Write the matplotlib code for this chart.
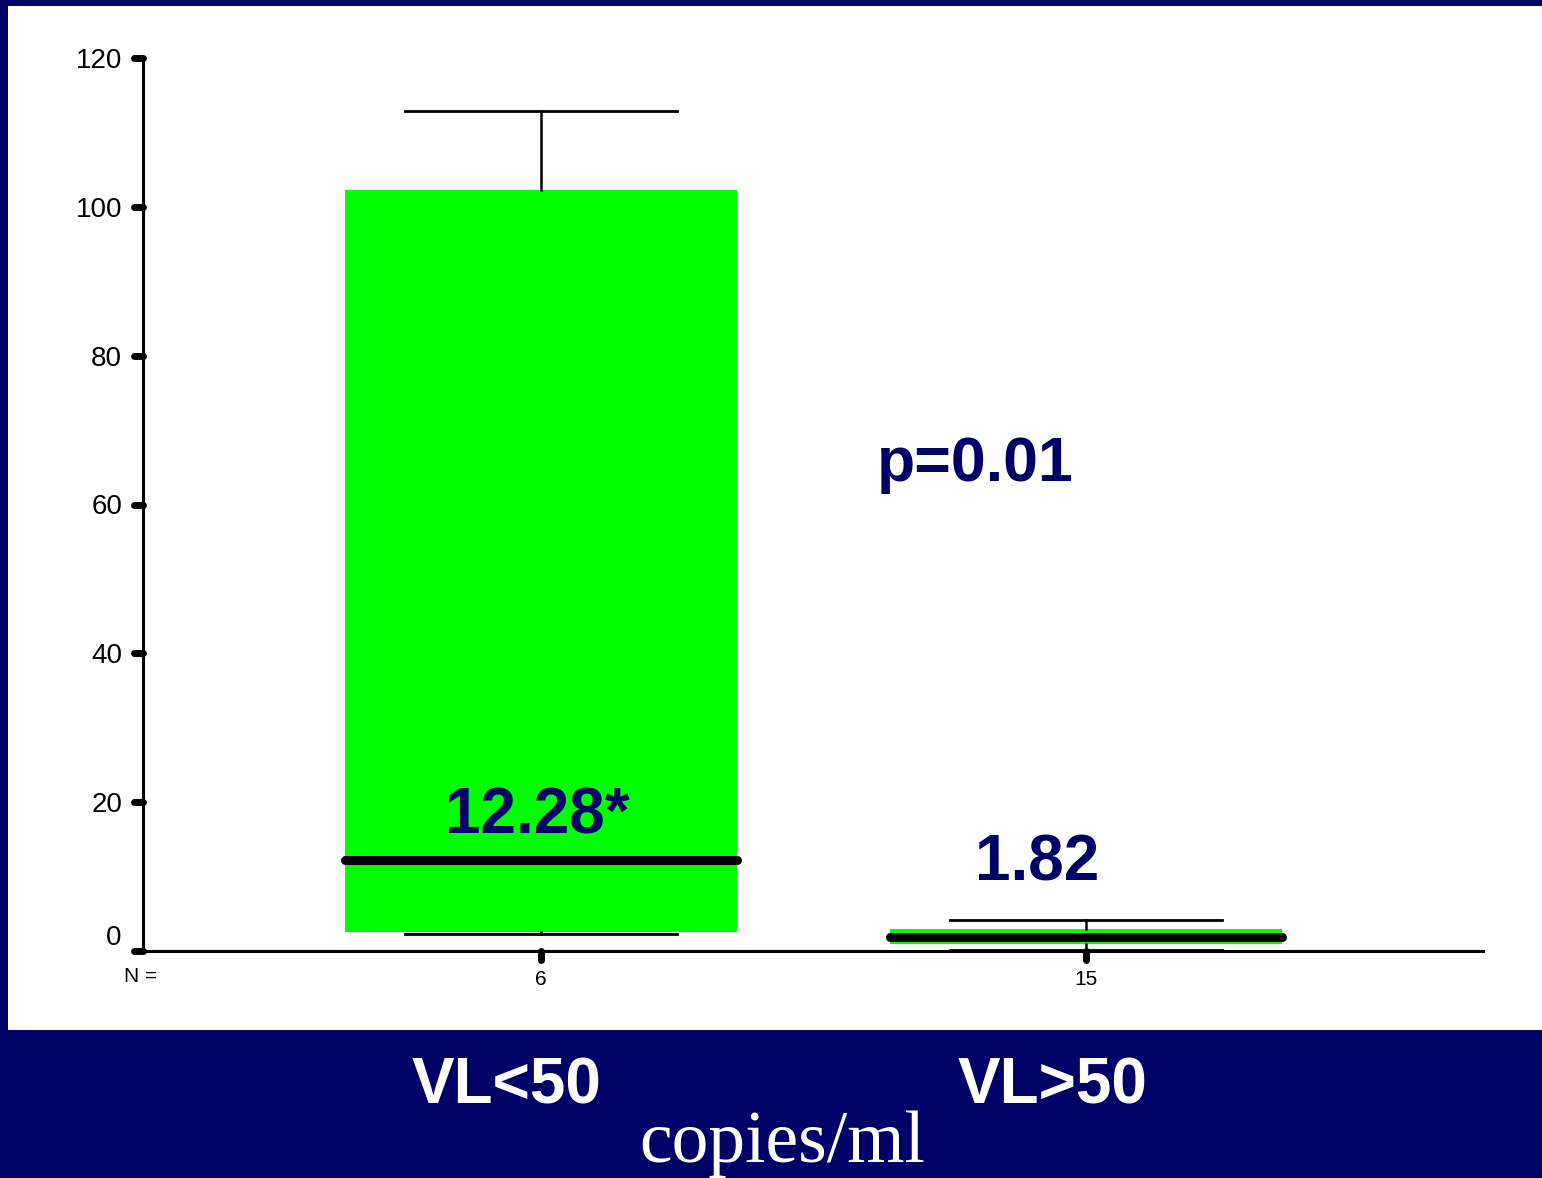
import matplotlib
matplotlib.use('Agg')
import matplotlib.pyplot as plt
from matplotlib.patches import Rectangle

# ==========================================
# 数据
# ==========================================
groups = ['VL<50', 'VL>50']
n_counts = ['6', '15']
medians = [12.28, 1.82]
q1 = [2.5, 0.9]
q3 = [102.3, 2.9]
whisker_lo = [2.3, 0.2]
whisker_hi = [112.9, 4.2]
median_labels = ['12.28*', '1.82']
p_text = 'p=0.01'
unit_text = 'copies/ml'
yticks = [0, 20, 40, 60, 80, 100, 120]

navy = '#000066'
green = '#00FF00'

plt.rcParams['font.family'] = ['Liberation Sans', 'DejaVu Sans']

fig = plt.figure(figsize=(15.42, 11.78), dpi=100, facecolor=navy)
# white panel
fig.patches.append(Rectangle((8 / 1542, 148 / 1178), 1, 1024 / 1178,
                             transform=fig.transFigure, facecolor='white',
                             edgecolor='none', zorder=-10))

ax = fig.add_axes([143 / 1542, 227 / 1178, 1340 / 1542, 893 / 1178])
ax.set_facecolor('none')
ax.set_zorder(5)

positions = [1, 2]
stats = []
for i in range(len(groups)):
    stats.append({'med': medians[i], 'q1': q1[i], 'q3': q3[i],
                  'whislo': whisker_lo[i], 'whishi': whisker_hi[i],
                  'fliers': []})

ax.bxp(stats, positions=positions, widths=0.72, capwidths=0.5,
       patch_artist=True, showfliers=False,
       boxprops=dict(facecolor=green, edgecolor='none', linewidth=0),
       medianprops=dict(color='black', linewidth=6.5, solid_capstyle='round'),
       whiskerprops=dict(color='black', linewidth=1.8),
       capprops=dict(color='black', linewidth=2))

ax.set_xlim(0.27, 2.728)
ax.set_ylim(0, 120)

for s in ['top', 'right']:
    ax.spines[s].set_visible(False)
for s in ['left', 'bottom']:
    ax.spines[s].set_linewidth(2.2)

# y ticks: rounded thick marks drawn by hand, labels as text
ax.set_yticks(yticks)
ax.set_yticklabels([str(t) if t != 0 else '' for t in yticks])
ax.tick_params(axis='y', length=0, pad=15, labelsize=20)
for lab in ax.get_yticklabels():
    lab.set_fontstretch('expanded')
ytr = ax.get_yaxis_transform()
for t in yticks:
    ax.plot([-0.0065, 0.0], [t, t], transform=ytr, color='black', lw=5,
            solid_capstyle='round', clip_on=False, zorder=5)
ax.text(-0.016, 0, '0', transform=ytr, ha='right', va='bottom', fontsize=20)

# x ticks
ax.set_xticks(positions)
ax.set_xticklabels(n_counts)
ax.tick_params(axis='x', length=0, pad=14, labelsize=15)
xtr = ax.get_xaxis_transform()
for p in positions:
    ax.plot([p, p], [0.0, -0.010], transform=xtr, color='black', lw=5,
            solid_capstyle='round', clip_on=False, zorder=5)
ax.text(-0.0015, -0.029, 'N =', transform=ax.transAxes, ha='center',
        va='center', fontsize=15)

# annotations
ax.text(0.994, 15.8, median_labels[0], ha='center', va='baseline',
        fontsize=46, fontweight='bold', color=navy)
ax.text(1.91, 9.5, median_labels[1], ha='center', va='baseline',
        fontsize=46, fontweight='bold', color=navy)
ax.text(1.796, 63.2, p_text, ha='center', va='baseline',
        fontsize=45, fontweight='bold', color=navy)

# group labels in navy band
fig.text(507 / 1542, 1 - 1103 / 1178, groups[0], ha='center', va='baseline',
         fontsize=46, fontweight='bold', color='white')
fig.text(1052 / 1542, 1 - 1103 / 1178, groups[1], ha='center', va='baseline',
         fontsize=46, fontweight='bold', color='white')
fig.text(782 / 1542, 1 - 1162 / 1178, unit_text, ha='center', va='baseline',
         fontsize=53, color='white', family=['Liberation Serif', 'DejaVu Serif'])

fig.savefig('out.png', dpi=100, facecolor=navy)
